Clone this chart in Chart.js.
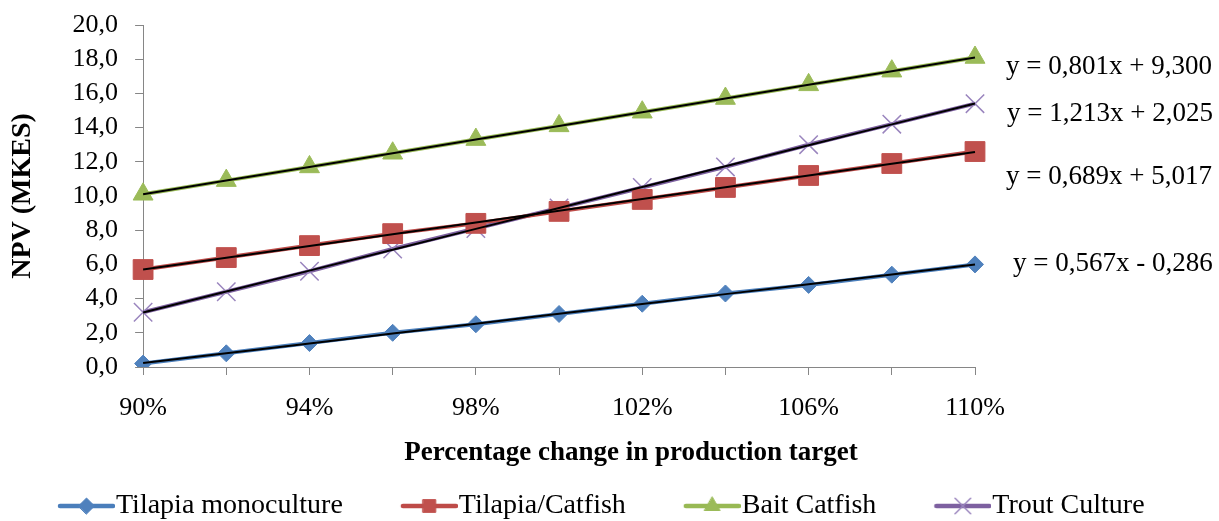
<!DOCTYPE html>
<html>
<head>
<meta charset="utf-8">
<script src="https://cdn.jsdelivr.net/npm/chart.js@4/dist/chart.umd.min.js"></script>
<style>
html,body{margin:0;padding:0;background:#fff;}
#wrap{width:1219px;height:521px;}
</style>
</head>
<body>
<div id="wrap"><canvas id="c" width="1219" height="521"></canvas></div>
<script>
// ---- data ----
const categories = ['90%','92%','94%','96%','98%','100%','102%','104%','106%','108%','110%'];
const tilapiaMonoculture = [0.2, 0.8, 1.4, 2.0, 2.5, 3.1, 3.7, 4.3, 4.8, 5.4, 6.0];
const tilapiaCatfish     = [5.7, 6.4, 7.1, 7.8, 8.4, 9.1, 9.8, 10.5, 11.2, 11.9, 12.6];
const baitCatfish        = [10.1, 10.9, 11.7, 12.5, 13.3, 14.1, 14.9, 15.7, 16.5, 17.3, 18.1];
const troutCulture       = [3.2, 4.4, 5.6, 6.9, 8.1, 9.3, 10.5, 11.7, 13.0, 14.2, 15.4];
const seriesNames = ['Tilapia monoculture', 'Tilapia/Catfish', 'Bait Catfish', 'Trout Culture'];
const trendEquations = ['y = 0,567x - 0,286', 'y = 0,689x + 5,017', 'y = 0,801x + 9,300', 'y = 1,213x + 2,025'];
const yMin = 0, yMax = 20, yStep = 2;
const xTitle = 'Percentage change in production target';
const yTitle = 'NPV (MKES)';

// ---- styles ----
const FONT = "'Liberation Serif', 'Times New Roman', serif";
const styles = [
  {line:'#4A7EBB', fill:'#4F81BD', border:'#4F81BD', point:'rectRot',  radius:8.5, legendRadius:8,  bw:1},
  {line:'#BE4B48', fill:'#C0504D', border:'#C0504D', point:'rect',     radius:14,  legendRadius:9,  bw:1},
  {line:'#98B954', fill:'#9BBB59', border:'#9BBB59', point:'triangle', radius:11.5,legendRadius:9,  bw:1},
  {line:'#7D60A0', fill:'#9A85BE', border:'#9A85BE', point:'crossRot', radius:13,  legendRadius:11, bw:1.5}
];
const eqPos = [{x:1013,y:271},{x:1006,y:184},{x:1006,y:74},{x:1007,y:121}];

const seriesData = [tilapiaMonoculture, tilapiaCatfish, baitCatfish, troutCulture];

// least-squares linear fit (Excel linear trendline), x = 1..n
function linearTrend(vals){
  const n = vals.length;
  let sx=0, sy=0, sxy=0, sxx=0;
  vals.forEach((v,i)=>{const x=i+1; sx+=x; sy+=v; sxy+=x*v; sxx+=x*x;});
  const b = (n*sxy - sx*sy)/(n*sxx - sx*sx);
  const a = (sy - b*sx)/n;
  return vals.map((_,i)=> a + b*(i+1));
}

const datasets = [];
seriesData.forEach((d,i)=>{
  const s = styles[i];
  datasets.push({
    label: seriesNames[i], data: d,
    borderColor: s.line, backgroundColor: s.fill, borderWidth: 4,
    pointStyle: s.point, pointRadius: s.radius, pointHoverRadius: s.radius,
    pointBackgroundColor: s.fill, pointBorderColor: s.border, pointBorderWidth: s.bw,
    tension: 0, order: 2
  });
});
seriesData.forEach((d,i)=>{
  datasets.push({
    label: seriesNames[i] + ' trend', data: linearTrend(d),
    borderColor: '#000', borderWidth: 2, pointRadius: 0, pointHoverRadius: 0,
    tension: 0, order: 1
  });
});

// legend icons: line + marker
const LEG_BOX = 92, LEG_CANVAS = 118, LEG_LINE = 57;
function drawMarker(ctx, style, r, x, y){
  if (Chart.helpers && Chart.helpers.drawPoint) {
    Chart.helpers.drawPoint(ctx, {pointStyle: style, rotation: 0, radius: r, borderWidth: ctx.lineWidth}, x, y);
    return;
  }
  ctx.beginPath();
  if (style==='rect'){ const h=r*Math.SQRT1_2; ctx.rect(x-h,y-h,2*h,2*h); ctx.fill(); }
  else if (style==='rectRot'){ ctx.moveTo(x-r,y);ctx.lineTo(x,y-r);ctx.lineTo(x+r,y);ctx.lineTo(x,y+r);ctx.closePath();ctx.fill(); }
  else if (style==='triangle'){ ctx.moveTo(x,y-r);ctx.lineTo(x+r*0.866,y+r/2);ctx.lineTo(x-r*0.866,y+r/2);ctx.closePath();ctx.fill(); }
  else { const o=r*Math.SQRT1_2; ctx.moveTo(x-o,y-o);ctx.lineTo(x+o,y+o);ctx.moveTo(x+o,y-o);ctx.lineTo(x-o,y+o);ctx.stroke(); }
}
const legendIcons = styles.map(s=>{
  const cv = document.createElement('canvas');
  cv.width = LEG_CANVAS; cv.height = 28;
  const c = cv.getContext('2d');
  c.strokeStyle = s.line; c.lineWidth = 4.5; c.lineCap = 'round';
  c.beginPath(); c.moveTo(LEG_CANVAS - LEG_LINE + 2, 14); c.lineTo(LEG_CANVAS - 2, 14); c.stroke();
  c.fillStyle = s.fill; c.strokeStyle = s.border; c.lineWidth = s.bw;
  drawMarker(c, s.point, s.legendRadius, LEG_CANVAS - LEG_LINE/2, 14);
  return cv;
});

const annotations = {
  id: 'annotations',
  afterLayout(chart){
    const lg = chart.legend;
    if (lg) { lg.top += 9; lg.bottom += 9; }
  },
  afterDraw(chart){
    const ctx = chart.ctx;
    ctx.save();
    ctx.fillStyle = '#000';
    ctx.textBaseline = 'alphabetic';
    ctx.textAlign = 'left';
    ctx.font = "27px " + FONT;
    trendEquations.forEach((t,i)=> ctx.fillText(t, eqPos[i].x, eqPos[i].y));
    ctx.textAlign = 'center';
    ctx.font = "bold 27px " + FONT;
    ctx.fillText(xTitle, 631, 460);
    ctx.restore();
  }
};

new Chart(document.getElementById('c'), {
  type: 'line',
  data: { labels: categories, datasets },
  plugins: [annotations],
  options: {
    responsive: false,
    animation: false,
    layout: { padding: { top: 25, right: 0, bottom: 0, left: 0 } },
    plugins: {
      tooltip: { enabled: false },
      legend: {
        position: 'bottom',
        align: 'start',
        labels: {
          usePointStyle: true,
          pointStyleWidth: LEG_BOX,
          boxHeight: 28,
          padding: 10,
          color: '#000',
          font: { family: FONT, size: 28 },
          generateLabels: (chart) => chart.data.datasets.slice(0, 4).map((ds, i) => ({
            text: ds.label, pointStyle: legendIcons[i], datasetIndex: i, hidden: false,
            fillStyle: 'rgba(0,0,0,0)', strokeStyle: 'rgba(0,0,0,0)', lineWidth: 0, fontColor: '#000'
          }))
        }
      }
    },
    scales: {
      x: {
        ticks: {
          autoSkip: false, maxRotation: 0, minRotation: 0, padding: 18, color: '#000',
          font: { family: FONT, size: 26 },
          callback: (v, i) => (i % 2 === 0 ? categories[i] : '')
        },
        grid: { drawOnChartArea: false, tickLength: 8, color: '#868686', lineWidth: 1 },
        border: { color: '#868686', width: 1 },
        afterFit: (s) => { s.height = 106; s.paddingRight = 244; }
      },
      y: {
        min: yMin, max: yMax,
        ticks: {
          stepSize: yStep, autoSkip: false, padding: 17, color: '#000',
          font: { family: FONT, size: 26 },
          callback: (v) => Number(v).toFixed(1).replace('.', ',')
        },
        grid: { drawOnChartArea: false, tickLength: 8, color: '#868686', lineWidth: 1 },
        border: { color: '#868686', width: 1 },
        title: {
          display: true, text: yTitle, color: '#000',
          font: { family: FONT, size: 28, weight: 'bold' },
          padding: { top: 6, bottom: 16 }
        },
        afterFit: (s) => { s.paddingTop = 0; }
      }
    }
  }
});
</script>
</body>
</html>
